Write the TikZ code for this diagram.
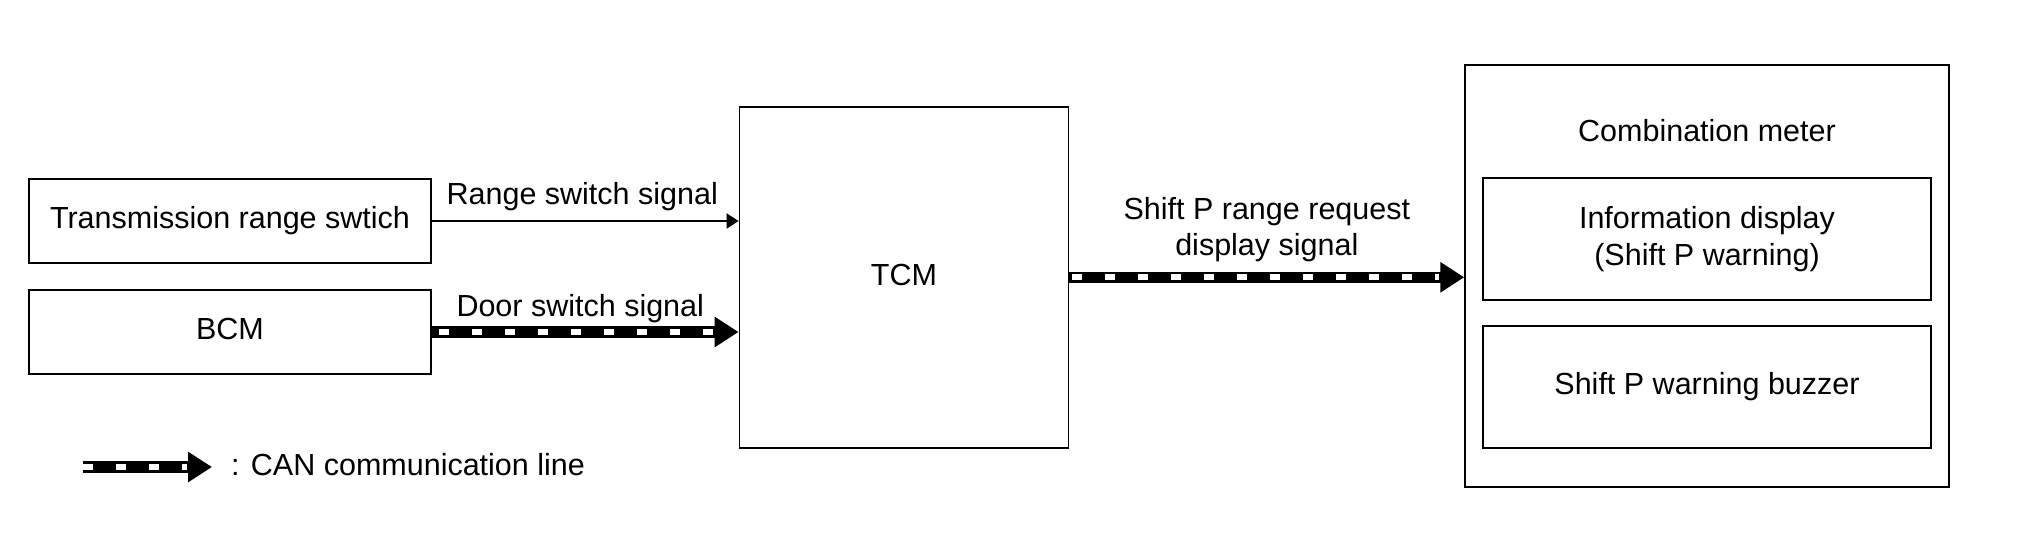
\documentclass[tikz,border=0pt]{standalone}
\usepackage{fontspec}
\setmainfont{Liberation Sans}
\usetikzlibrary{arrows.meta}
\begin{document}
\begin{tikzpicture}[x=1pt,y=-1pt,
  every node/.style={font=\fontsize{30.5}{36.6}\selectfont, inner sep=0pt},
  box/.style={draw, line width=1.8pt, text height=22pt, text depth=6.5pt},
  mbox/.style={draw, line width=1.8pt, align=center},
  outerbox/.style={draw, line width=1.5pt},
  sig/.style={line width=2pt, -{Triangle[length=12pt,width=15pt]}},
  canbase/.style={line width=11.5pt, -{Triangle[length=24pt,width=29pt]}},
  candash/.style={white, line width=6pt, dash pattern=on 10pt off 23pt, shorten >=25pt},
  lbl/.style={anchor=base}
]
\useasboundingbox (0,0) rectangle (2020,544);

% left boxes
\node[box, minimum width=402pt, minimum height=84pt] (trs) at (230,221) {Transmission range swtich};
\node[box, minimum width=402pt, minimum height=84pt] (bcm) at (230,332) {BCM};

% TCM
\node[box, minimum width=329pt, minimum height=340.6pt] (tcm) at (904,277.3) {TCM};

% Combination meter
\node[outerbox, minimum width=484pt, minimum height=422pt] (cm) at (1707,276) {};
\node[lbl] (cmtitle) at (1707,141.7) {Combination meter};
\node[mbox, minimum width=448pt, minimum height=122pt] (info) at (1707,239.2) {Information display\\(Shift P warning)};
\node[box, minimum width=448pt, minimum height=121.6pt] (buzz) at (1707,386.8) {Shift P warning buzzer};

% Range switch signal
\draw[sig] (trs.east) -- (tcm.west |- trs.east)
  node[midway, anchor=base, yshift=17pt, xshift=-3pt] (rlbl) {Range switch signal};

% Door switch signal (CAN)
\draw[canbase] (bcm.east) -- (tcm.west |- bcm.east)
  node[midway, anchor=base, yshift=15.3pt, xshift=-5pt] (dlbl) {Door switch signal};
\draw[candash, dash phase=26pt] (bcm.east) -- (tcm.west |- bcm.east);

% Shift P range request display signal (CAN)
\draw[canbase] (tcm.east) -- (cm.west |- tcm.east)
  node[midway, align=center, yshift=47.6pt] (slbl) {Shift P range request\\display signal};
\draw[candash, dash phase=30.6pt] (tcm.east) -- (cm.west |- tcm.east);

% Legend
\coordinate (lgA) at (83,467);
\coordinate (lgB) at (212,467);
\draw[canbase] (lgA) -- (lgB);
\draw[candash] (lgA) -- (lgB);
\node[anchor=base west] (lgtext) at (231,475) {: CAN communication line};
\end{tikzpicture}
\end{document}
